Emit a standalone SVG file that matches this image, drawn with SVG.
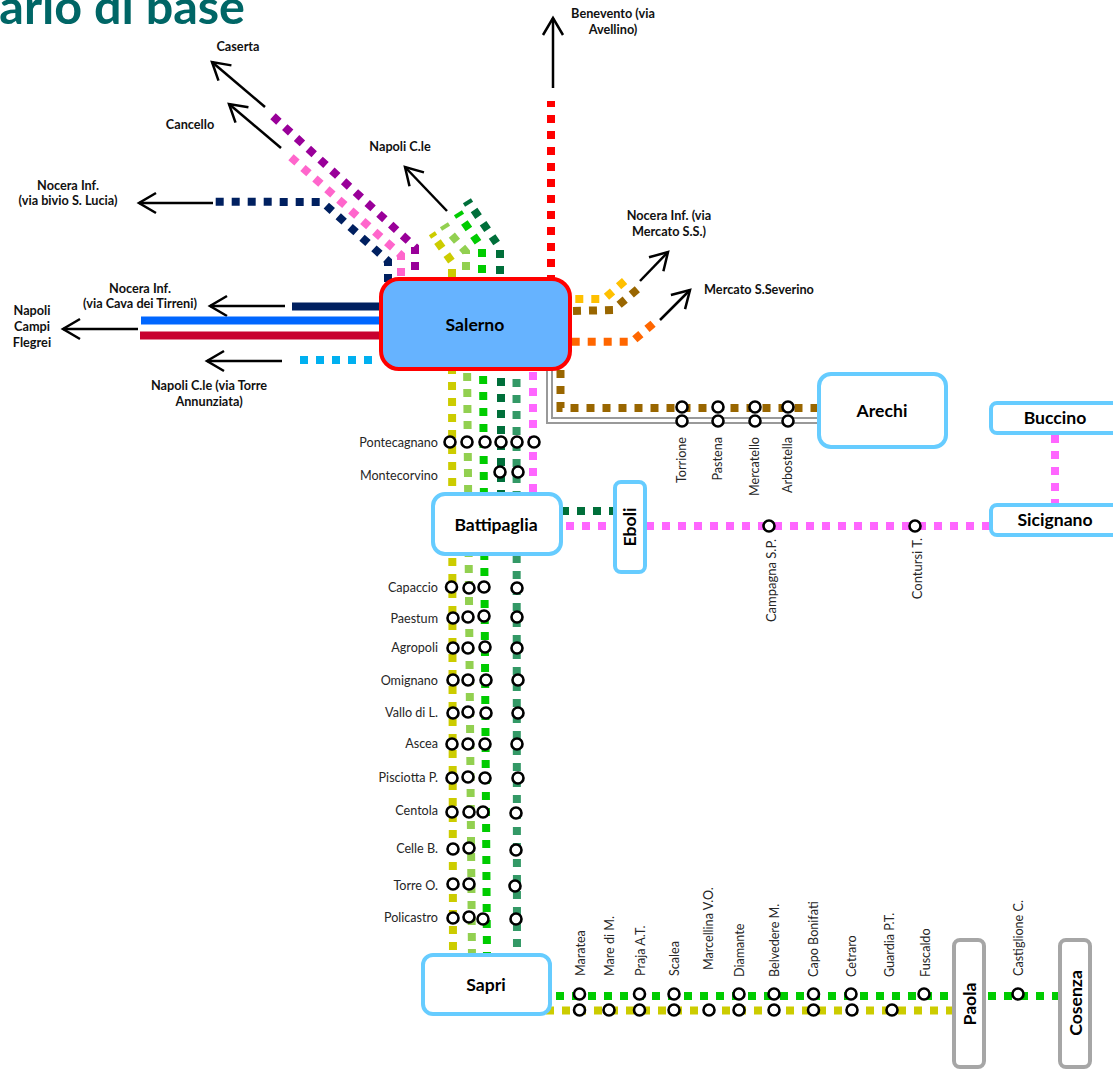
<svg xmlns="http://www.w3.org/2000/svg" width="1113" height="1071" viewBox="0 0 1113 1071">
<style>
text{font-family:"Lato","Liberation Sans",sans-serif}
.t{font-size:12.6px;fill:#262626}
.e{text-anchor:end}
.b{font-size:12.7px;font-weight:700;fill:#111;text-anchor:middle}
.n{font-size:17.6px;font-weight:700;fill:#000;text-anchor:middle}
.s{fill:#fff;stroke:#000;stroke-width:2.6}
.d{fill:none;stroke-width:8;stroke-dasharray:8 8;stroke-linejoin:miter}
.sl{fill:none;stroke-width:4}
.k{fill:none;stroke-width:8}
.a{fill:none;stroke:#000;stroke-width:2.5;marker-end:url(#ah)}
.g{fill:none;stroke:#999;stroke-width:2}
.bx{fill:#fff;stroke:#66CCFF;stroke-width:4}
.gx{fill:#fff;stroke:#A6A6A6;stroke-width:4}
</style>
<defs>
<marker id="ah" markerUnits="userSpaceOnUse" markerWidth="24" markerHeight="26" refX="21" refY="12" orient="auto">
<path d="M4,2 L21,12 L4,22" fill="none" stroke="#000" stroke-width="2.5"/>
</marker>
</defs>
<text x="245" y="24" font-size="48.5" font-weight="700" fill="#006666" text-anchor="end">ario di base</text>
<g id="connectors">
<path class="a" d="M265,107 L212,62"/>
<path class="a" d="M281,148 L229,104"/>
<path class="a" d="M213,203 L139,203"/>
<path class="a" d="M447,211 L405,167"/>
<path class="a" d="M553,88 L553,18"/>
<path class="a" d="M640,281 L668,252"/>
<path class="a" d="M660,320 L690,290"/>
<path class="a" d="M285,306 L210,306"/>
<path class="a" d="M138,329 L63,329"/>
<path class="a" d="M282,361 L207,361"/>
<path class="d" stroke="#990099" d="M273,116.3 L415,247 L415,282"/>
<path class="d" stroke="#FF66CC" d="M291,157.3 L401,255 L401,282"/>
<path class="d" stroke="#002060" d="M215.7,201.7 L322.3,202 L388,261 L388,282"/>
<path class="d" stroke="#CCCC00" d="M452,277 L452,262 L437,241"/>
<path class="d" stroke="#92D050" d="M466,270 L466,252 L450,233"/>
<path class="d" stroke="#00CC00" d="M482,273 L482,248 L464,222"/>
<path class="d" stroke="#006F3A" d="M500,274 L500,248 L472,207"/>
<path class="sl" stroke="#CCCC00" d="M430,237 L436,233"/>
<path class="sl" stroke="#92D050" d="M441,229 L449,224"/>
<path class="sl" stroke="#00CC00" d="M455,217 L463,212"/>
<path class="sl" stroke="#006F3A" d="M464,205 L472,200"/>
<path class="d" stroke="#FF0000" stroke-dashoffset="2" d="M551,101 L551,282"/>
<path class="d" stroke="#FFC000" d="M575.3,299 L604,299 L627,279"/>
<path class="d" stroke="#996600" d="M573,311 L613,310 L640,287"/>
<path class="d" stroke="#FF6600" d="M571.7,341.7 L632,341.7 L655,322"/>
<path class="k" stroke="#002060" d="M292,306.5 L382,306.5"/>
<path class="k" stroke="#0066FF" d="M141,320.5 L382,320.5"/>
<path class="k" stroke="#C8002F" d="M140,335.5 L382,335.5"/>
<path class="d" stroke="#00B0F0" d="M300,360 L378,360"/>
<path class="g" d="M547,368 L547,423 L820,423"/>
<path class="g" d="M552,368 L552,418 L820,418"/>
<path class="d" stroke="#996600" d="M560.5,354 L560.5,408 L817,408"/>
<path class="d" stroke="#CCCC00" d="M452,366 L453,960"/>
<path class="d" stroke="#92D050" d="M467,357 L472,960"/>
<path class="d" stroke="#00CC00" d="M483,360 L487,960"/>
<path class="d" stroke="#006F3A" d="M501,362 L501,500"/>
<path class="d" stroke="#339966" d="M516.5,363 L517,960"/>
<path class="d" stroke="#FF66FF" d="M533,356 L533,500"/>
<path class="d" stroke="#006F3A" d="M561,511 L615,511"/>
<path class="d" stroke="#FF66FF" d="M566,526 L615,526"/>
<path class="d" stroke="#FF66FF" d="M646,526 L992,526"/>
<path class="d" stroke="#FF66FF" d="M1055,435 L1055,507"/>
<path class="d" stroke="#00CC00" d="M556,996 L956,996"/>
<path class="d" stroke="#00CC00" d="M988,996 L1060,996"/>
<path class="d" stroke="#CCCC00" d="M546,1010.5 L956,1010.5"/>
</g>
<g id="salerno"><rect x="381" y="279" width="189" height="90" rx="18" fill="#66B3FF" stroke="#FF0000" stroke-width="4"/><text class="n" x="475" y="331">Salerno</text></g>
<g id="battipaglia"><rect class="bx" x="433" y="494" width="128" height="60" rx="12"/><text class="n" x="496" y="531">Battipaglia</text></g>
<g id="eboli"><rect class="bx" x="615" y="482" width="30" height="90" rx="6"/><text class="n" transform="translate(636,527) rotate(-90)">Eboli</text></g>
<g id="arechi"><rect class="bx" x="819" y="374" width="127" height="73" rx="12"/><text class="n" x="882" y="417">Arechi</text></g>
<g id="buccino"><rect class="bx" x="991" y="403" width="140" height="30" rx="6"/><text class="n" x="1055" y="424">Buccino</text></g>
<g id="sicignano"><rect class="bx" x="991" y="505" width="140" height="30" rx="6"/><text class="n" x="1055" y="526">Sicignano</text></g>
<g id="sapri"><rect class="bx" x="423" y="955" width="127" height="59" rx="10"/><text class="n" x="486" y="991">Sapri</text></g>
<g id="paola"><rect class="gx" x="954" y="940" width="30" height="127" rx="6"/><text class="n" transform="translate(976,1004) rotate(-90)">Paola</text></g>
<g id="cosenza"><rect class="gx" x="1060" y="940" width="30" height="127" rx="6"/><text class="n" transform="translate(1082,1003) rotate(-90)">Cosenza</text></g>
<g id="l-caserta"><text class="b" x="238" y="51">Caserta</text></g>
<g id="l-cancello"><text class="b" x="190" y="129">Cancello</text></g>
<g id="l-nocera-bivio"><text class="b" x="68" y="190">Nocera Inf.</text><text class="b" x="68" y="205">(via bivio S. Lucia)</text></g>
<g id="l-napoli"><text class="b" x="400" y="151">Napoli C.le</text></g>
<g id="l-benevento"><text class="b" x="613" y="18">Benevento (via</text><text class="b" x="613" y="34">Avellino)</text></g>
<g id="l-nocera-mercato"><text class="b" x="669" y="220">Nocera Inf. (via</text><text class="b" x="669" y="236">Mercato S.S.)</text></g>
<g id="l-mercato"><text class="b" x="759" y="294">Mercato S.Severino</text></g>
<g id="l-nocera-cava"><text class="b" x="140" y="293">Nocera Inf.</text><text class="b" x="140" y="308">(via Cava dei Tirreni)</text></g>
<g id="l-campi"><text class="b" x="32" y="315">Napoli</text><text class="b" x="32" y="331">Campi</text><text class="b" x="32" y="347">Flegrei</text></g>
<g id="l-torre"><text class="b" x="209" y="390">Napoli C.le (via Torre</text><text class="b" x="209" y="406">Annunziata)</text></g>
<g id="pontecagnano"><text class="t e" x="438" y="447">Pontecagnano</text><circle class="s" cx="450" cy="442" r="5.5"/><circle class="s" cx="467" cy="442" r="5.5"/><circle class="s" cx="485" cy="442" r="5.5"/><circle class="s" cx="501" cy="442" r="5.5"/><circle class="s" cx="517" cy="442" r="5.5"/><circle class="s" cx="534" cy="442" r="5.5"/></g>
<g id="montecorvino"><text class="t e" x="438" y="480">Montecorvino</text><circle class="s" cx="500" cy="472" r="5.5"/><circle class="s" cx="518" cy="472" r="5.5"/></g>
<g id="capaccio"><text class="t e" x="438" y="592">Capaccio</text><circle class="s" cx="451.5" cy="587" r="5.5"/><circle class="s" cx="469" cy="588" r="5.5"/><circle class="s" cx="484" cy="587" r="5.5"/><circle class="s" cx="517" cy="588" r="5.5"/></g>
<g id="paestum"><text class="t e" x="438" y="623">Paestum</text><circle class="s" cx="453" cy="618" r="5.5"/><circle class="s" cx="468" cy="617" r="5.5"/><circle class="s" cx="484" cy="616" r="5.5"/><circle class="s" cx="517" cy="617" r="5.5"/></g>
<g id="agropoli"><text class="t e" x="438" y="652">Agropoli</text><circle class="s" cx="453" cy="648" r="5.5"/><circle class="s" cx="468" cy="648" r="5.5"/><circle class="s" cx="485" cy="647" r="5.5"/><circle class="s" cx="517" cy="648" r="5.5"/></g>
<g id="omignano"><text class="t e" x="438" y="685">Omignano</text><circle class="s" cx="453" cy="680" r="5.5"/><circle class="s" cx="468" cy="680" r="5.5"/><circle class="s" cx="486" cy="680" r="5.5"/><circle class="s" cx="518" cy="680" r="5.5"/></g>
<g id="vallo"><text class="t e" x="438" y="717">Vallo di L.</text><circle class="s" cx="453" cy="713" r="5.5"/><circle class="s" cx="468" cy="712" r="5.5"/><circle class="s" cx="486" cy="713" r="5.5"/><circle class="s" cx="518" cy="713" r="5.5"/></g>
<g id="ascea"><text class="t e" x="438" y="748">Ascea</text><circle class="s" cx="452" cy="744" r="5.5"/><circle class="s" cx="468" cy="744" r="5.5"/><circle class="s" cx="485" cy="744" r="5.5"/><circle class="s" cx="517" cy="744" r="5.5"/></g>
<g id="pisciotta"><text class="t e" x="438" y="782">Pisciotta P.</text><circle class="s" cx="452" cy="778" r="5.5"/><circle class="s" cx="468" cy="777" r="5.5"/><circle class="s" cx="485" cy="778" r="5.5"/><circle class="s" cx="518" cy="778" r="5.5"/></g>
<g id="centola"><text class="t e" x="438" y="815">Centola</text><circle class="s" cx="452" cy="812" r="5.5"/><circle class="s" cx="469" cy="812" r="5.5"/><circle class="s" cx="483" cy="812" r="5.5"/><circle class="s" cx="516" cy="813" r="5.5"/></g>
<g id="celle"><text class="t e" x="438" y="853">Celle B.</text><circle class="s" cx="453" cy="849" r="5.5"/><circle class="s" cx="469" cy="848" r="5.5"/><circle class="s" cx="516" cy="850" r="5.5"/></g>
<g id="torre"><text class="t e" x="438" y="890">Torre O.</text><circle class="s" cx="453" cy="884" r="5.5"/><circle class="s" cx="469" cy="884" r="5.5"/><circle class="s" cx="515" cy="886" r="5.5"/></g>
<g id="policastro"><text class="t e" x="438" y="922">Policastro</text><circle class="s" cx="453" cy="918" r="5.5"/><circle class="s" cx="469" cy="917" r="5.5"/><circle class="s" cx="483" cy="919" r="5.5"/><circle class="s" cx="516" cy="919" r="5.5"/></g>
<g id="torrione"><text class="t e" transform="translate(686,437) rotate(-90)">Torrione</text><circle class="s" cx="682" cy="407" r="5.5"/><circle class="s" cx="682" cy="421" r="5.5"/></g>
<g id="pastena"><text class="t e" transform="translate(722,437) rotate(-90)">Pastena</text><circle class="s" cx="718" cy="407" r="5.5"/><circle class="s" cx="718" cy="421" r="5.5"/></g>
<g id="mercatello"><text class="t e" transform="translate(759,437) rotate(-90)">Mercatello</text><circle class="s" cx="755" cy="407" r="5.5"/><circle class="s" cx="755" cy="421" r="5.5"/></g>
<g id="arbostella"><text class="t e" transform="translate(792,437) rotate(-90)">Arbostella</text><circle class="s" cx="788" cy="407" r="5.5"/><circle class="s" cx="788" cy="421" r="5.5"/></g>
<g id="campagna"><text class="t e" font-size="13" style="font-size:13px" transform="translate(776,539) rotate(-90)">Campagna S.P.</text><circle class="s" cx="769" cy="526" r="5.5"/></g>
<g id="contursi"><text class="t e" style="font-size:13px" transform="translate(922,538) rotate(-90)">Contursi T.</text><circle class="s" cx="915" cy="526" r="5.5"/></g>
<g id="maratea"><text class="t" transform="translate(585,976) rotate(-90)">Maratea</text><circle class="s" cx="579.5" cy="994" r="5.5"/><circle class="s" cx="579.5" cy="1010" r="5.5"/></g>
<g id="mare"><text class="t" transform="translate(614,976) rotate(-90)">Mare di M.</text><circle class="s" cx="609" cy="1010" r="5.5"/></g>
<g id="praja"><text class="t" transform="translate(645,976) rotate(-90)">Praja A.T.</text><circle class="s" cx="639.5" cy="994" r="5.5"/><circle class="s" cx="639.5" cy="1010" r="5.5"/></g>
<g id="scalea"><text class="t" transform="translate(679,976) rotate(-90)">Scalea</text><circle class="s" cx="674" cy="994" r="5.5"/><circle class="s" cx="674" cy="1010" r="5.5"/></g>
<g id="marcellina"><text class="t" transform="translate(713,970) rotate(-90)">Marcellina V.O.</text><circle class="s" cx="709" cy="1010" r="5.5"/></g>
<g id="diamante"><text class="t" transform="translate(744,977) rotate(-90)">Diamante</text><circle class="s" cx="739" cy="994" r="5.5"/><circle class="s" cx="739" cy="1010" r="5.5"/></g>
<g id="belvedere"><text class="t" transform="translate(779,977) rotate(-90)">Belvedere M.</text><circle class="s" cx="774" cy="994" r="5.5"/><circle class="s" cx="774" cy="1010" r="5.5"/></g>
<g id="capo"><text class="t" transform="translate(818,977) rotate(-90)">Capo Bonifati</text><circle class="s" cx="813.5" cy="994" r="5.5"/><circle class="s" cx="813.5" cy="1010" r="5.5"/></g>
<g id="cetraro"><text class="t" transform="translate(856,977) rotate(-90)">Cetraro</text><circle class="s" cx="851" cy="994" r="5.5"/><circle class="s" cx="852" cy="1010" r="5.5"/></g>
<g id="guardia"><text class="t" transform="translate(894,977) rotate(-90)">Guardia P.T.</text><circle class="s" cx="892" cy="1010" r="5.5"/></g>
<g id="fuscaldo"><text class="t" transform="translate(930,977) rotate(-90)">Fuscaldo</text><circle class="s" cx="924" cy="994" r="5.5"/></g>
<g id="castiglione"><text class="t" transform="translate(1023,976) rotate(-90)">Castiglione C.</text><circle class="s" cx="1018" cy="994" r="5.5"/></g>
</svg>
